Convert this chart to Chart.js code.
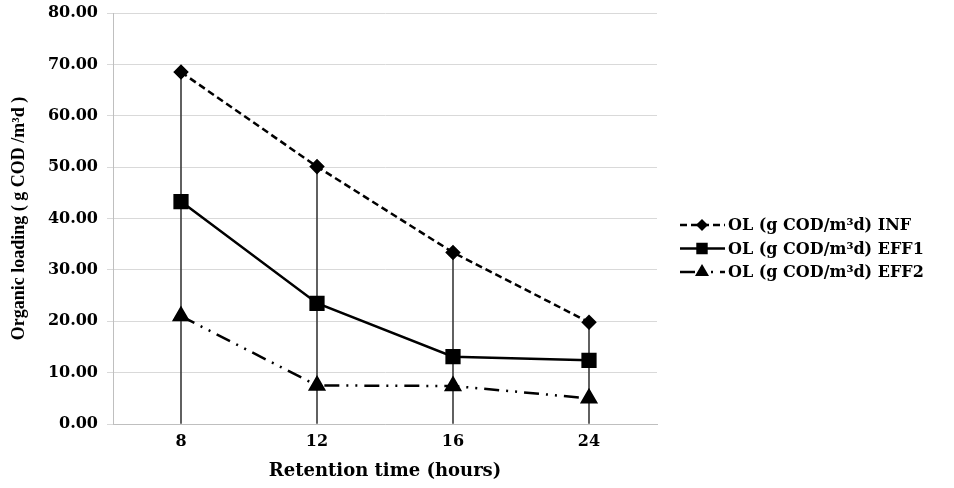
<!DOCTYPE html>
<html>
<head>
<meta charset="utf-8">
<script src="https://cdn.jsdelivr.net/npm/chart.js@4.4.0/dist/chart.umd.min.js"></script>
<style>
  html, body { margin: 0; padding: 0; background: #fff; }
  #wrap { width: 954px; height: 488px; }
</style>
</head>
<body>
<div id="wrap"><canvas id="myChart"></canvas></div>
<script>
// data
const retention = ['8', '12', '16', '24'];
const olInf = [68.5, 50.1, 33.4, 19.8];
const olEff1 = [43.3, 23.5, 13.1, 12.4];
const olEff2 = [21.0, 7.5, 7.4, 5.0];
const yTicks = [0, 10, 20, 30, 40, 50, 60, 70, 80];

const labelFont = { family: 'DejaVu Serif', weight: 'bold', size: 16 };

// drop lines from the top point of each category down to the axis
const dropLines = retention.map((c, i) => [0, Math.max(olInf[i], olEff1[i], olEff2[i])]);

// legend: line sample with the marker in the middle, like the original
const lineLegend = {
    id: 'lineLegend',
    afterDraw(chart) {
        const c = chart.ctx;
        const items = chart.data.datasets.filter(d => d.type !== 'bar');
        let y = 225;
        items.forEach(ds => {
            c.save();
            c.strokeStyle = '#000';
            c.lineWidth = 2.5;
            c.setLineDash(ds.borderDash || []);
            c.beginPath();
            c.moveTo(680, y);
            c.lineTo(725, y);
            c.stroke();
            c.setLineDash([]);
            Chart.helpers.drawPoint(c, {
                pointStyle: ds.pointStyle,
                radius: ds.pointRadius * 0.7,
                borderWidth: 1
            }, 702, y);
            c.fillStyle = '#000';
            c.font = 'bold 16px "DejaVu Serif"';
            c.textBaseline = 'middle';
            c.fillText(ds.label, 728, y + 1);
            c.restore();
            y += 23.5;
        });
    }
};

const ctx = document.getElementById('myChart').getContext('2d');
const myChart = new Chart(ctx, {
    type: 'line',
    data: {
        labels: retention,
        datasets: [{
            label: 'OL (g COD/m³d) INF',
            data: olInf,
            borderColor: '#000',
            backgroundColor: '#000',
            borderWidth: 2.5,
            borderDash: [7, 4],
            pointStyle: 'rectRot',
            pointRadius: 6,
            order: 0
        }, {
            label: 'OL (g COD/m³d) EFF1',
            data: olEff1,
            borderColor: '#000',
            backgroundColor: '#000',
            borderWidth: 2.5,
            pointStyle: 'rect',
            pointRadius: 9,
            order: 0
        }, {
            label: 'OL (g COD/m³d) EFF2',
            data: olEff2,
            borderColor: '#000',
            backgroundColor: '#000',
            borderWidth: 2.5,
            borderDash: [15, 7, 2, 7, 2, 7],
            pointStyle: 'triangle',
            pointRadius: 8,
            order: 0
        }, {
            type: 'bar',
            label: 'drop',
            data: dropLines,
            backgroundColor: '#404040',
            barThickness: 1,
            order: 10
        }]
    },
    options: {
        responsive: true,
        maintainAspectRatio: false,
        animation: false,
        layout: {
            padding: { top: 13, right: 297, left: 0, bottom: 0 }
        },
        plugins: {
            legend: { display: false },
            tooltip: { enabled: false }
        },
        scales: {
            x: {
                offset: true,
                grid: { display: false },
                border: { color: '#bfbfbf' },
                ticks: { color: '#000', font: labelFont, padding: 0 },
                title: {
                    display: true,
                    text: 'Retention time (hours)',
                    color: '#000',
                    font: { family: 'DejaVu Serif', weight: 'bold', size: 18 },
                    padding: { top: 4, bottom: 6 }
                },
                afterFit(scale) { scale.height = 64; }
            },
            y: {
                min: 0,
                max: 80,
                afterBuildTicks(scale) { scale.ticks = yTicks.map(v => ({ value: v })); },
                grid: { color: '#d9d9d9', tickLength: 6 },
                border: { color: '#bfbfbf' },
                ticks: {
                    color: '#000',
                    font: labelFont,
                    padding: 9,
                    callback: v => v.toFixed(2)
                },
                title: {
                    display: true,
                    text: 'Organic loading ( g COD /m³d )',
                    color: '#000',
                    font: { family: 'Liberation Serif', weight: 'bold', size: 18 },
                    padding: { top: 9, bottom: 4 }
                },
                afterFit(scale) {
                    scale.width = 113;
                    scale.paddingTop = 0;
                    scale.paddingBottom = 0;
                }
            }
        }
    },
    plugins: [lineLegend]
});
</script>
</body>
</html>
